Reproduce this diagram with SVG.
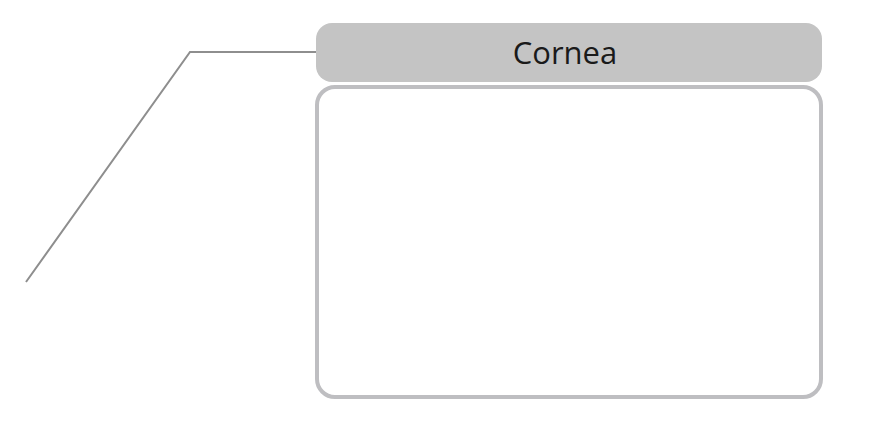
<svg xmlns="http://www.w3.org/2000/svg" width="879" height="433" viewBox="0 0 879 433">
<style>
.hdr{fill:#c4c4c4;}
.box{fill:#ffffff;stroke:#bebec1;stroke-width:4;}
.lead{fill:none;stroke:#8e8e8e;stroke-width:2;}
.lbl{font-family:"Open Sans","Liberation Sans",sans-serif;font-size:31px;fill:#1a1a1a;text-anchor:middle;}
</style>
<rect width="879" height="433" fill="#ffffff"/>
<g id="connectors">
<polyline class="lead" points="26,282 190,52 318,52"/>
</g>
<g id="cornea-header">
<rect class="hdr" x="316" y="23" width="506" height="59" rx="16" ry="16"/>
<text class="lbl" x="565" y="64">Cornea</text>
</g>
<g id="cornea-box">
<rect class="box" x="317" y="87" width="504" height="310" rx="18" ry="18"/>
</g>
</svg>
